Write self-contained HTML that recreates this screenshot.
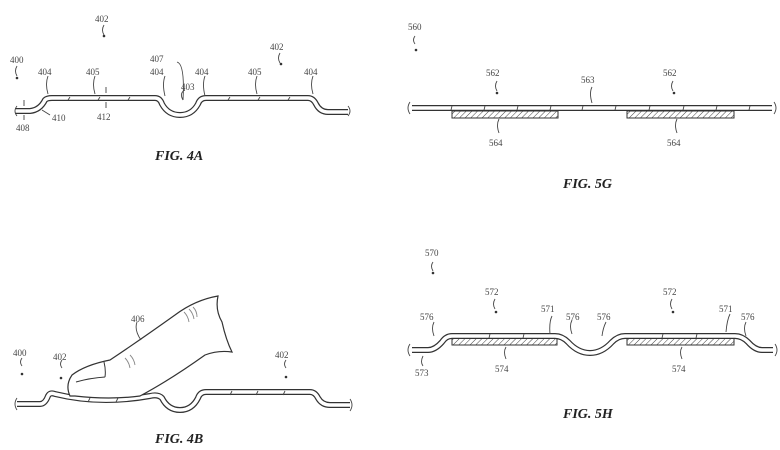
<!DOCTYPE html>
<html><head><meta charset="utf-8"><style>
html,body{margin:0;padding:0;background:#fff;}
svg{display:block;}
text{font-family:"Liberation Serif",serif;fill:#444;font-size:9px;}
.fig{font-size:14px;font-weight:bold;font-style:italic;fill:#222;}
.o{fill:none;stroke:#333;stroke-width:6;stroke-linejoin:round;}
.i{fill:none;stroke:#fff;stroke-width:3.6;stroke-linejoin:round;}
.l{fill:none;stroke:#444;stroke-width:0.9;}
</style></head><body>
<svg width="780" height="450" viewBox="0 0 780 450">
<defs>
<pattern id="h" width="4" height="4" patternUnits="userSpaceOnUse" patternTransform="rotate(45)">
<rect width="4" height="4" fill="#fff"/><line x1="0" y1="0" x2="0" y2="4" stroke="#444" stroke-width="1"/></pattern>
</defs>

<!-- FIG 4A -->
<path class="o" d="M15 111 L30 111 Q40 110 45 100 Q47 98 52 98 L155 98 Q160 98 162 104 Q168 115 180 115 Q192 115 198 104 Q200 98 206 98 L308 98 Q313 98 316 104 Q320 112 328 112 L348 112"/>
<path class="i" d="M15 111 L30 111 Q40 110 45 100 Q47 98 52 98 L155 98 Q160 98 162 104 Q168 115 180 115 Q192 115 198 104 Q200 98 206 98 L308 98 Q313 98 316 104 Q320 112 328 112 L348 112"/>
<g class="l">
<path d="M70 97l-2 3M100 97l-2 3M130 97l-2 3M230 97l-2 3M260 97l-2 3M290 97l-2 3M17 106q-4 5 0 10M348 106q4 5 0 10"/>
<path d="M48 76q-3 8 0 18M95 76q-3 8 0 18M165 76q-3 8 0 20M205 76q-3 8 0 20M257 76q-3 8 0 18M313 76q-3 8 0 18M185 90q-6 3 -2 10M177 62q8 2 6 38"/>
<path d="M106 93v-6M106 102v6M24 106v-6M24 115v5M42 110l8 5"/>
</g>
<text x="95" y="22">402</text><path class="l" d="M104 25q-3 5 0 10"/><circle cx="104" cy="36" r="1.3" fill="#333"/>
<text x="270" y="50">402</text><path class="l" d="M280 53q-3 5 0 10"/><circle cx="281" cy="64" r="1.3" fill="#333"/>
<text x="10" y="63">400</text><path class="l" d="M17 66q-3 5 0 10"/><circle cx="17" cy="78" r="1.3" fill="#333"/>
<text x="38" y="75">404</text><text x="86" y="75">405</text><text x="150" y="75">404</text><text x="195" y="75">404</text><text x="248" y="75">405</text><text x="304" y="75">404</text>
<text x="150" y="62">407</text><text x="181" y="90">403</text>
<text x="97" y="120">412</text><text x="52" y="121">410</text><text x="16" y="131">408</text>
<text class="fig" x="155" y="160">FIG. 4A</text>

<!-- FIG 5G -->
<rect x="452" y="111" width="106" height="7" fill="url(#h)" stroke="#333" stroke-width="1"/>
<rect x="627" y="111" width="107" height="7" fill="url(#h)" stroke="#333" stroke-width="1"/>
<path class="o" d="M412 108 L772 108"/><path class="i" d="M412 108 L772 108"/>
<g class="l">
<path d="M452 106l-1 4M485 106l-1 4M518 106l-1 4M551 106l-1 4M583 106l-1 4M616 106l-1 4M650 106l-1 4M684 106l-1 4M717 106l-1 4M750 106l-1 4"/>
<path d="M410 102q-4 6 0 12M774 102q4 6 0 12"/>
<path d="M497 81q-3 5 0 10M673 81q-3 5 0 10M592 87q-3 6 0 16M499 119q-3 6 0 14M677 119q-3 6 0 14M415 36q-3 4 0 8"/>
</g>
<circle cx="497" cy="93" r="1.3" fill="#333"/><circle cx="674" cy="93" r="1.3" fill="#333"/><circle cx="416" cy="50" r="1.3" fill="#333"/>
<text x="408" y="30">560</text><text x="486" y="76">562</text><text x="663" y="76">562</text><text x="581" y="83">563</text>
<text x="489" y="146">564</text><text x="667" y="146">564</text>
<text class="fig" x="563" y="188">FIG. 5G</text>

<!-- FIG 4B -->
<path class="o" d="M17 404 L40 404 Q45 404 48 396 Q50 392 55 394 Q100 405 150 396 Q158 394 162 398 Q168 410 180 410 Q192 410 198 398 Q200 392 206 392 L310 392 Q315 392 318 398 Q322 405 330 405 L350 405"/>
<path class="i" d="M17 404 L40 404 Q45 404 48 396 Q50 392 55 394 Q100 405 150 396 Q158 394 162 398 Q168 410 180 410 Q192 410 198 398 Q200 392 206 392 L310 392 Q315 392 318 398 Q322 405 330 405 L350 405"/>
<g class="l">
<path d="M90 398l-2 4M118 398l-2 4M232 391l-2 4M258 391l-2 4M285 391l-2 4M17 398q-4 6 0 12M350 399q4 6 0 12"/>
</g>
<path d="M70 396 Q65 385 72 375 Q85 365 110 360 Q140 340 175 315 Q195 300 218 296 Q215 310 222 322 Q226 340 232 352 Q218 350 205 355 Q170 380 140 396 Q110 400 75 396 Z" fill="#fff" stroke="#333" stroke-width="1.2"/>
<path d="M76 382 Q90 378 105 377 M104 362 Q106 370 105 377" fill="none" stroke="#333" stroke-width="1"/>
<path d="M125 358q4 4 5 10M130 355q4 4 5 10M184 312q4 4 5 10M189 309q4 4 5 10M193 307q4 4 4 10" fill="none" stroke="#888" stroke-width="0.9"/>
<path class="l" d="M137 322q-3 8 4 18M62 360q-3 4 0 8M22 358q-3 4 0 8M286 360q-3 4 0 8"/>
<circle cx="61" cy="378" r="1.3" fill="#333"/><circle cx="22" cy="374" r="1.3" fill="#333"/><circle cx="286" cy="377" r="1.3" fill="#333"/>
<text x="131" y="322">406</text><text x="13" y="356">400</text><text x="53" y="360">402</text><text x="275" y="358">402</text>
<text class="fig" x="155" y="443">FIG. 4B</text>

<!-- FIG 5H -->
<rect x="452" y="338" width="105" height="7" fill="url(#h)" stroke="#333" stroke-width="1"/>
<rect x="627" y="338" width="107" height="7" fill="url(#h)" stroke="#333" stroke-width="1"/>
<path class="o" d="M412 350 L428 350 Q435 350 442 342 Q446 336 452 336 L555 336 Q562 336 568 342 Q578 353 590 353 Q602 353 612 342 Q618 336 625 336 L735 336 Q742 336 748 342 Q755 350 762 350 L773 350"/>
<path class="i" d="M412 350 L428 350 Q435 350 442 342 Q446 336 452 336 L555 336 Q562 336 568 342 Q578 353 590 353 Q602 353 612 342 Q618 336 625 336 L735 336 Q742 336 748 342 Q755 350 762 350 L773 350"/>
<g class="l">
<path d="M490 334l-1 4M524 334l-1 4M663 334l-1 4M697 334l-1 4"/>
<path d="M410 344q-4 6 0 12M775 344q4 6 0 12"/>
<path d="M434 322q-3 6 0 14M552 316q-3 6 -2 18M572 320q-3 6 0 14M606 322q-3 6 -4 14M730 314q-3 6 -4 18M746 322q-3 6 0 14M423 356q-3 6 0 10M506 347q-3 5 0 12M682 347q-3 5 0 12M495 299q-3 5 0 10M672 299q-3 5 0 10M433 262q-3 4 0 9"/>
</g>
<circle cx="496" cy="312" r="1.3" fill="#333"/><circle cx="673" cy="312" r="1.3" fill="#333"/><circle cx="433" cy="273" r="1.3" fill="#333"/>
<text x="425" y="256">570</text><text x="485" y="295">572</text><text x="663" y="295">572</text>
<text x="420" y="320">576</text><text x="541" y="312">571</text><text x="566" y="320">576</text><text x="597" y="320">576</text><text x="719" y="312">571</text><text x="741" y="320">576</text>
<text x="415" y="376">573</text><text x="495" y="372">574</text><text x="672" y="372">574</text>
<text class="fig" x="563" y="418">FIG. 5H</text>
</svg>
</body></html>
